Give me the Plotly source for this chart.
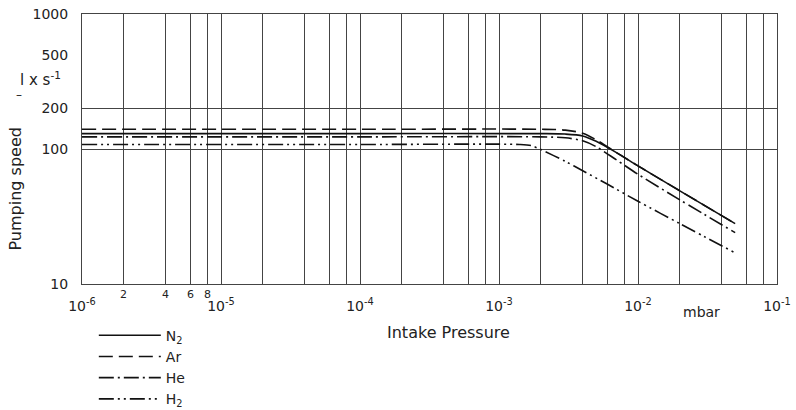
import math
import plotly.graph_objects as go

# ---- data ----
p_N2 = [1e-6, 1e-4, 2e-3, 3e-3, 4e-3, 5e-3, 7e-3, 1e-2, 2e-2, 5e-2]
s_N2 = [130, 130, 130, 129, 125, 114, 94, 75, 49, 28]

p_Ar = [1e-6, 1e-4, 2e-3, 3e-3, 4e-3, 5e-3, 7e-3, 1e-2, 2e-2, 5e-2]
s_Ar = [140, 140, 140, 138, 131, 117, 94, 75, 49, 28]

p_He = [1e-6, 1e-4, 2e-3, 3e-3, 4e-3, 5e-3, 7e-3, 1e-2, 2e-2, 5e-2]
s_He = [123, 123, 123, 121, 115, 104, 83, 65, 42, 24]

p_H2 = [1e-6, 1e-4, 1.4e-3, 1.7e-3, 2e-3, 3e-3, 4e-3, 6e-3, 1e-2, 2e-2, 5e-2]
s_H2 = [108, 108, 108, 106, 99, 81, 69, 55, 41, 28, 17]

x_major = [1e-6, 1e-5, 1e-4, 1e-3, 1e-2, 1e-1]
x_major_text = ["10<sup>-6</sup>", "10<sup>-5</sup>", "10<sup>-4</sup>",
                "10<sup>-3</sup>", "10<sup>-2</sup>", "10<sup>-1</sup>"]
x_minor_mult = [2, 4, 6, 8]
x_minor_label_vals = [2e-6, 4e-6, 6e-6, 8e-6]
x_minor_label_text = ["2", "4", "6", "8"]

y_ticks = [10, 100, 200, 500, 1000]
y_tick_text = ["10", "100", "200", "500", "1000"]
y_grid = [100, 200]

FONT = "DejaVu Sans"
TXT = "#222222"
GRID = "#444444"

fig = go.Figure()

series = [
    ("N<sub>2</sub>", p_N2, s_N2, "solid"),
    ("Ar", p_Ar, s_Ar, "14px,6px"),
    ("He", p_He, s_He, "15px,4px,2px,4px"),
    ("H<sub>2</sub>", p_H2, s_H2, "15px,4px,2px,4px,2px,4px"),
]
for i, (name, px, py, dash) in enumerate(series):
    fig.add_trace(go.Scatter(
        x=px, y=py, name=name, mode="lines", legendgroup=f"g{i}",
        line=dict(color="#111111", width=1.6, dash=dash, shape="spline", smoothing=0.8),
    ))

minor_vals = [m * 10 ** d for d in range(-6, -1) for m in x_minor_mult]

fig.update_xaxes(
    type="log", range=[-6, -1], automargin=False,
    tickvals=x_major, ticktext=x_major_text,
    tickfont=dict(family=FONT, size=14, color=TXT),
    ticks="", ticklabelstandoff=9,
    showgrid=True, gridcolor=GRID, gridwidth=1,
    minor=dict(tickvals=minor_vals, showgrid=True, gridcolor=GRID, gridwidth=1, ticks=""),
    showline=True, linecolor="#444444", linewidth=1, mirror=True,
    zeroline=False,
)
fig.update_yaxes(
    type="log", range=[1, 3], automargin=False,
    tickvals=y_ticks, ticktext=y_tick_text,
    tickfont=dict(family=FONT, size=14, color=TXT),
    ticks="", ticklabelstandoff=10,
    showgrid=False,
    minor=dict(tickvals=y_grid, showgrid=True, gridcolor=GRID, gridwidth=1, ticks=""),
    showline=True, linecolor="#444444", linewidth=1, mirror=True,
    zeroline=False,
)

annotations = []
for v, t in zip(x_minor_label_vals, x_minor_label_text):
    annotations.append(dict(x=math.log10(v), xref="x", y=-0.04, yref="paper", text=t,
                            showarrow=False, xanchor="center", yanchor="middle",
                            font=dict(family=FONT, size=11, color=TXT)))
annotations += [
    dict(x=0.892, y=-0.104, xref="paper", yref="paper", text="mbar", showarrow=False,
         xanchor="center", yanchor="middle", font=dict(family=FONT, size=14, color=TXT)),
    dict(x=0.528, y=-0.178, xref="paper", yref="paper", text="Intake Pressure", showarrow=False,
         xanchor="center", yanchor="middle", font=dict(family=FONT, size=16, color=TXT)),
    dict(x=-0.0964, y=0.35, xref="paper", yref="paper", text="Pumping speed", showarrow=False,
         textangle=-90, xanchor="center", yanchor="middle",
         font=dict(family=FONT, size=16, color=TXT)),
    dict(x=-0.06, y=0.76, xref="paper", yref="paper", text="l x s<sup>-1</sup>", showarrow=False,
         xanchor="center", yanchor="middle", font=dict(family=FONT, size=15, color=TXT)),
    dict(x=-0.091, y=0.70, xref="paper", yref="paper", text="–", showarrow=False,
         xanchor="center", yanchor="middle", font=dict(family=FONT, size=12, color=TXT)),
]

fig.update_layout(
    width=796, height=410,
    margin=dict(l=82, r=19, t=14, b=126, autoexpand=False),
    paper_bgcolor="white", plot_bgcolor="white",
    font=dict(family=FONT, color=TXT),
    annotations=annotations,
    showlegend=True,
    legend=dict(x=0.017, y=-0.132, xanchor="left", yanchor="top",
                font=dict(family=FONT, size=14, color=TXT),
                bgcolor="rgba(0,0,0,0)", itemwidth=62, tracegroupgap=0),
)

fig.write_html("out.html", config={"displayModeBar": False},
               post_script="document.body.style.margin='0px';")
